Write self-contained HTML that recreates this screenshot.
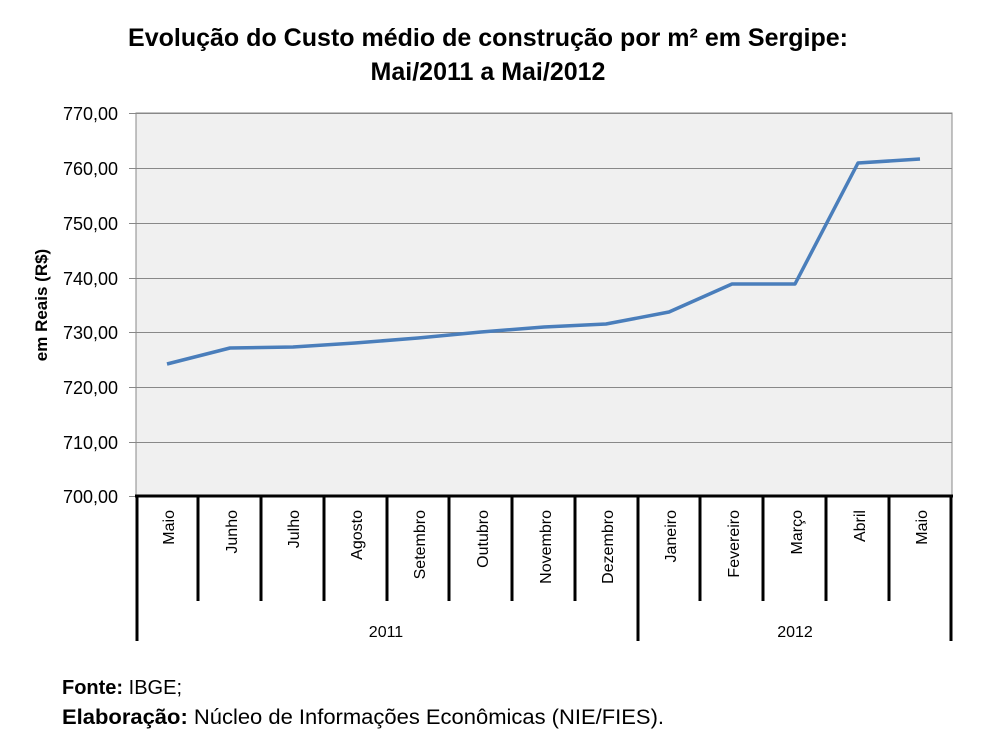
<!DOCTYPE html>
<html><head><meta charset="utf-8"><style>
body{margin:0;background:#fff;width:1006px;height:739px;overflow:hidden}
svg{display:block}
text{font-family:"Liberation Sans",sans-serif}
</style></head><body>
<svg width="1006" height="739" viewBox="0 0 1006 739">
<text x="488" y="46" font-size="25" font-weight="bold" text-anchor="middle" textLength="720">Evolução do Custo médio de construção por m² em Sergipe:</text>
<text x="488" y="80" font-size="25" font-weight="bold" text-anchor="middle">Mai/2011 a Mai/2012</text>
<rect x="136" y="113" width="816" height="383" fill="#f0f0f0" stroke="#888" stroke-width="1"/>
<g stroke="#888" stroke-width="1">
<line x1="129" y1="113.5" x2="952" y2="113.5"/>
<line x1="129" y1="168.5" x2="952" y2="168.5"/>
<line x1="129" y1="223.5" x2="952" y2="223.5"/>
<line x1="129" y1="278.5" x2="952" y2="278.5"/>
<line x1="129" y1="332.5" x2="952" y2="332.5"/>
<line x1="129" y1="387.5" x2="952" y2="387.5"/>
<line x1="129" y1="442.5" x2="952" y2="442.5"/>
<line x1="129" y1="496.5" x2="136" y2="496.5"/>
</g>
<g font-size="18" text-anchor="end">
<text x="118" y="120">770,00</text>
<text x="118" y="175">760,00</text>
<text x="118" y="230">750,00</text>
<text x="118" y="285">740,00</text>
<text x="118" y="339">730,00</text>
<text x="118" y="394">720,00</text>
<text x="118" y="449">710,00</text>
<text x="118" y="503">700,00</text>
</g>
<text transform="translate(47,305) rotate(-90)" font-size="17" font-weight="bold" text-anchor="middle">em Reais (R$)</text>
<line x1="135" y1="496" x2="953" y2="496" stroke="#000" stroke-width="3"/>
<g stroke="#000" stroke-width="3">
<line x1="137" y1="496" x2="137" y2="641"/>
<line x1="198" y1="496" x2="198" y2="601"/>
<line x1="261" y1="496" x2="261" y2="601"/>
<line x1="324" y1="496" x2="324" y2="601"/>
<line x1="387" y1="496" x2="387" y2="601"/>
<line x1="449" y1="496" x2="449" y2="601"/>
<line x1="512" y1="496" x2="512" y2="601"/>
<line x1="575" y1="496" x2="575" y2="601"/>
<line x1="638" y1="496" x2="638" y2="641"/>
<line x1="700" y1="496" x2="700" y2="601"/>
<line x1="763" y1="496" x2="763" y2="601"/>
<line x1="826" y1="496" x2="826" y2="601"/>
<line x1="889" y1="496" x2="889" y2="601"/>
<line x1="951" y1="496" x2="951" y2="641"/>
</g>
<g font-size="16" text-anchor="end">
<text transform="translate(174,510) rotate(-90)">Maio</text>
<text transform="translate(237,510) rotate(-90)">Junho</text>
<text transform="translate(299,510) rotate(-90)">Julho</text>
<text transform="translate(362,510) rotate(-90)">Agosto</text>
<text transform="translate(425,510) rotate(-90)">Setembro</text>
<text transform="translate(488,510) rotate(-90)">Outubro</text>
<text transform="translate(551,510) rotate(-90)">Novembro</text>
<text transform="translate(613,510) rotate(-90)">Dezembro</text>
<text transform="translate(676,510) rotate(-90)">Janeiro</text>
<text transform="translate(739,510) rotate(-90)">Fevereiro</text>
<text transform="translate(802,510) rotate(-90)">Março</text>
<text transform="translate(865,510) rotate(-90)">Abril</text>
<text transform="translate(927,510) rotate(-90)">Maio</text>
</g>
<text x="386" y="637" font-size="16" text-anchor="middle">2011</text>
<text x="795" y="637" font-size="16" text-anchor="middle">2012</text>
<polyline fill="none" stroke="#4a7ebb" stroke-width="3.5" stroke-linejoin="round" points="167,364 230,348 293,347 355,343 418,338 481,332 544,327 606,324 669,312 732,284 795,284 858,163 920,159"/>
<text x="62" y="694" font-size="20"><tspan font-weight="bold">Fonte:</tspan> IBGE;</text>
<text x="62" y="724" font-size="21" textLength="602" lengthAdjust="spacingAndGlyphs"><tspan font-weight="bold">Elaboração:</tspan> Núcleo de Informações Econômicas (NIE/FIES).</text>
</svg>
</body></html>
